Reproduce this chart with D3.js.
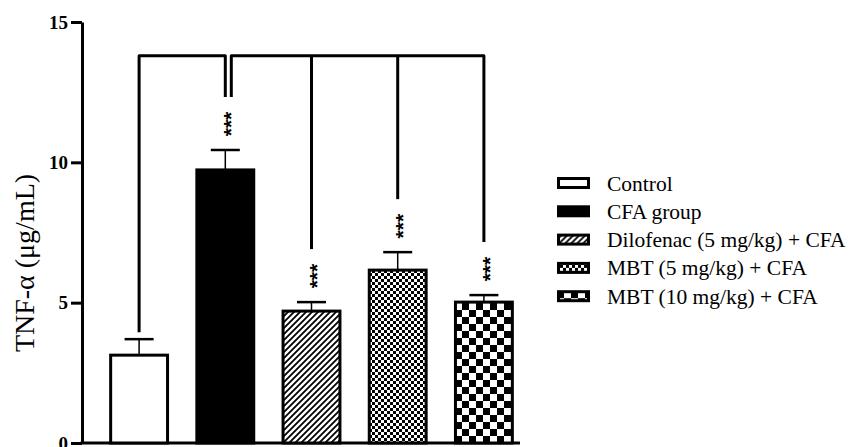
<!DOCTYPE html>
<html>
<head>
<meta charset="utf-8">
<script src="https://cdn.jsdelivr.net/npm/d3@7"></script>
<style>
  body { margin: 0; background: #fff; }
  svg { display: block; font-family: "Liberation Serif", "Times New Roman", serif; }
</style>
</head>
<body>
<svg id="chart" width="856" height="447"></svg>
<script>
// data
const groups = ["Control", "CFA group", "Dilofenac (5 mg/kg) + CFA", "MBT (5 mg/kg) + CFA", "MBT (10 mg/kg) + CFA"];
const means = [3.13, 9.73, 4.70, 6.16, 5.02];
const sems = [0.57, 0.71, 0.32, 0.64, 0.25];
const stars = ["", "***", "***", "***", "***"];
const fills = ["white", "black", "url(#diag)", "url(#fineCheck)", "url(#bigCheck)"];
const yTicks = [0, 5, 10, 15];
const bracketLevel = 13.8;

const svg = d3.select("#chart");
const y = d3.scaleLinear().domain([0, 15]).range([443, 22]);
const x = d3.scaleBand().domain(groups).range([96, 527]).paddingInner(0.34).paddingOuter(0.17);
const axisX = 82, axisRight = 520;

// patterns
const defs = svg.append("defs");
const diag = defs.append("pattern").attr("id", "diag").attr("patternUnits", "userSpaceOnUse")
    .attr("width", 6).attr("height", 6);
diag.append("rect").attr("width", 6).attr("height", 6).attr("fill", "white");
diag.append("path").attr("d", "M-1,1 l2,-2 M0,6 l6,-6 M5,7 l2,-2")
    .attr("stroke", "black").attr("stroke-width", 1.8);

const fine = defs.append("pattern").attr("id", "fineCheck").attr("patternUnits", "userSpaceOnUse")
    .attr("width", 6).attr("height", 6);
fine.append("rect").attr("width", 6).attr("height", 6).attr("fill", "white");
fine.append("rect").attr("width", 3).attr("height", 3).attr("fill", "black");
fine.append("rect").attr("x", 3).attr("y", 3).attr("width", 3).attr("height", 3).attr("fill", "black");

const big = defs.append("pattern").attr("id", "bigCheck").attr("patternUnits", "userSpaceOnUse")
    .attr("width", 14).attr("height", 14).attr("x", 0).attr("y", 443);
big.append("rect").attr("width", 14).attr("height", 14).attr("fill", "white");
big.append("rect").attr("width", 7).attr("height", 7).attr("fill", "black");
big.append("rect").attr("x", 7).attr("y", 7).attr("width", 7).attr("height", 7).attr("fill", "black");

// y axis
const yAxis = svg.append("g").attr("transform", `translate(${axisX},0)`)
    .call(d3.axisLeft(y).tickValues(yTicks).tickSize(11).tickSizeOuter(0).tickPadding(3));
yAxis.select(".domain").attr("stroke-width", 3);
yAxis.selectAll(".tick line").attr("stroke-width", 3);
yAxis.selectAll(".tick text").attr("font-family", "Liberation Serif").attr("font-weight", "bold")
    .attr("font-size", 19).attr("fill", "black");

// x axis line
svg.append("line").attr("x1", axisX - 1.5).attr("x2", axisRight).attr("y1", y(0)).attr("y2", y(0))
    .attr("stroke", "black").attr("stroke-width", 3);

svg.append("text")
    .attr("transform", `translate(34,263) rotate(-90)`)
    .attr("text-anchor", "middle").attr("font-size", 28)
    .text("TNF-α (μg/mL)");

// bars
svg.append("g").selectAll("rect").data(groups).join("rect")
    .attr("x", d => x(d))
    .attr("y", (d, i) => y(means[i]))
    .attr("width", x.bandwidth())
    .attr("height", (d, i) => y(0) - y(means[i]))
    .attr("fill", (d, i) => fills[i])
    .attr("stroke", "black").attr("stroke-width", 3);

// error bars (upper half)
const cx = d => x(d) + x.bandwidth() / 2;
const err = svg.append("g").attr("stroke", "black");
err.selectAll(".stem").data(groups).join("line").attr("class", "stem")
    .attr("x1", cx).attr("x2", cx)
    .attr("y1", (d, i) => y(means[i])).attr("y2", (d, i) => y(means[i] + sems[i]))
    .attr("stroke-width", 1.5);
err.selectAll(".cap").data(groups).join("line").attr("class", "cap")
    .attr("x1", d => cx(d) - 14.5).attr("x2", d => cx(d) + 14.5)
    .attr("y1", (d, i) => y(means[i] + sems[i])).attr("y2", (d, i) => y(means[i] + sems[i]))
    .attr("stroke-width", 2.5);

// significance stars
const starSize = 21;
svg.append("g").selectAll("text").data(groups).join("text")
    .attr("transform", (d, i) => `translate(${cx(d) + starSize * 0.6},${y(means[i] + sems[i]) - 26}) rotate(-90)`)
    .attr("text-anchor", "middle").attr("font-size", starSize).attr("font-weight", "bold")
    .attr("font-family", "Liberation Sans").attr("fill", "black")
    .text((d, i) => stars[i]);

// comparison brackets
const dropEnd = i => y(means[i] + sems[i]) - (stars[i] ? 53 : 7);
const bracketTop = y(bracketLevel);
const bk = svg.append("g").attr("fill", "none").attr("stroke", "black").attr("stroke-width", 3)
    .attr("stroke-linejoin", "round");
bk.append("path").attr("d", d3.line()([
    [cx(groups[0]), dropEnd(0)], [cx(groups[0]), bracketTop], [cx(groups[1]), bracketTop], [cx(groups[1]), dropEnd(1)]
]));
const rightStart = cx(groups[1]) + 6;
bk.append("path").attr("d", d3.line()([
    [rightStart, dropEnd(1)], [rightStart, bracketTop], [cx(groups[4]), bracketTop], [cx(groups[4]), dropEnd(4)]
]));
[2, 3].forEach(i => {
    bk.append("line").attr("x1", cx(groups[i])).attr("x2", cx(groups[i]))
        .attr("y1", bracketTop).attr("y2", dropEnd(i));
});

// legend
const legend = svg.append("g").attr("transform", "translate(557,183)");
const rows = legend.selectAll("g").data(groups).join("g")
    .attr("transform", (d, i) => `translate(0,${i * 28.3})`);
rows.append("rect").attr("x", 1.5).attr("y", -4.5).attr("width", 30).attr("height", 9)
    .attr("fill", (d, i) => fills[i]).attr("stroke", "black").attr("stroke-width", 3);
rows.append("text").attr("x", 50).attr("y", 7.5).attr("font-size", 21.5).text(d => d);
</script>
</body>
</html>
